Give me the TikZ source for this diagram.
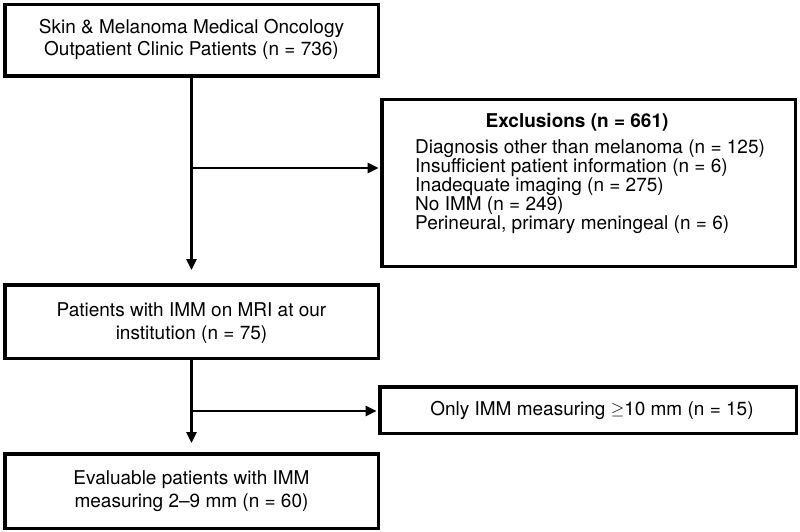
\documentclass[tikz,border=0pt]{standalone}
\usepackage{fontspec}
\setmainfont{TeX Gyre Heros}
\usetikzlibrary{arrows.meta,calc}
\begin{document}
\begin{tikzpicture}[x=1pt,y=-1pt,
  box/.style={draw=black,line width=3.5pt,fill=white,inner sep=0pt,minimum width=373.5pt},
  txt/.style={font=\fontsize{19}{22.5}\selectfont,align=center,inner sep=0pt},
  conn/.style={line width=2.6pt,-{Triangle[length=11pt,width=10pt]}}]
\useasboundingbox (0,0) rectangle (800,532);
\node[box,minimum height=71.5pt] (b1) at (191.5,40.5) {};
\node[txt] (t1) at (191.5,39.5) {Skin \& Melanoma Medical Oncology\\Outpatient Clinic Patients (n = 736)};
\node[box,minimum width=413.5pt,minimum height=166.5pt] (ex) at (588.5,183) {};
\node[txt,font=\fontsize{19}{22}\selectfont\bfseries] (exh) at (577,122) {Exclusions (n = 661)};
\node[txt,align=left,anchor=north west,font=\fontsize{19}{19.2}\selectfont] (exl) at (415,139) {Diagnosis other than melanoma (n = 125)\\Insufficient patient information (n = 6)\\Inadequate imaging (n = 275)\\No IMM (n = 249)\\Perineural, primary meningeal (n = 6)};
\node[box,minimum height=73.5pt] (b2) at (191.5,321.5) {};
\node[txt] (t2) at (191.5,323) {Patients with IMM on MRI at our\\institution (n = 75)};
\node[box,minimum width=416.5pt,minimum height=46.5pt] (b3) at (588,410) {};
\node[txt] (t3) at (592,410) {Only IMM measuring \raisebox{0.5pt}{$\geq$}10 mm (n = 15)};
\node[box,minimum height=74.5pt] (b4) at (191.5,491) {};
\node[txt] (t4) at (191.5,491) {Evaluable patients with IMM\\measuring 2–9 mm (n = 60)};
\coordinate (k1) at (191.5,168);
\coordinate (k2) at (191.5,411);
\draw[conn,shorten >=13pt] (b1.south) -- (b2.north);
\draw[conn,shorten >=1.5pt] (k1) -- (k1 -| ex.west);
\draw[conn,shorten >=9pt] (b2.south) -- (b4.north);
\draw[conn,shorten >=1.5pt] (k2) -- (k2 -| b3.west);
\end{tikzpicture}
\end{document}
